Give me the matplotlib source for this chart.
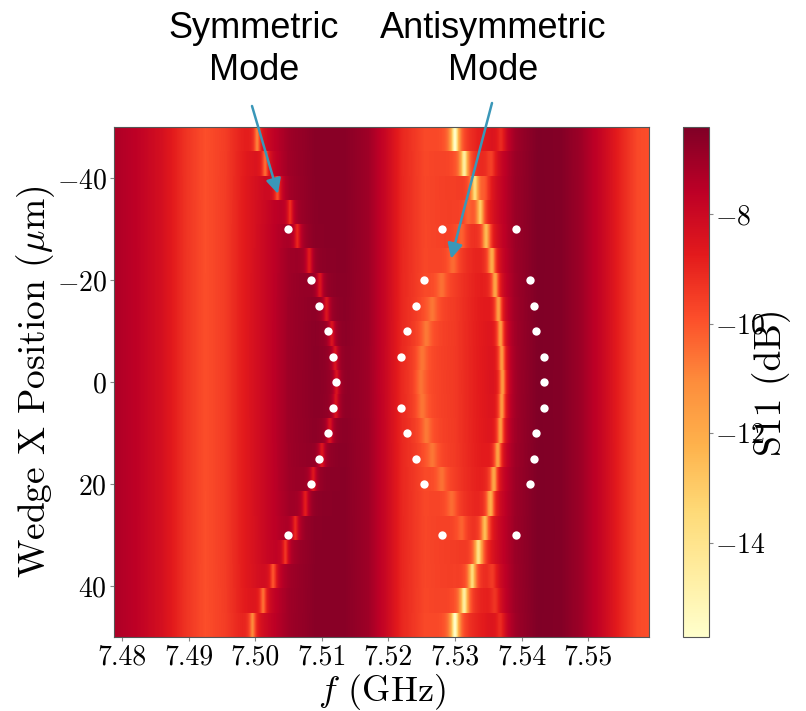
import numpy as np
import matplotlib
matplotlib.use("Agg")
import matplotlib.pyplot as plt

plt.rcParams["font.family"] = "serif"
plt.rcParams["font.serif"] = ["cmr10"]
plt.rcParams["mathtext.fontset"] = "cm"
plt.rcParams["axes.formatter.use_mathtext"] = True

# Frequency window (GHz) and wedge positions (um)
f_min, f_max = 7.4788, 7.5591
positions = np.arange(-50, 51, 5)

# Off-resonance S11 baseline (GHz, dB)
bg_freq = [7.4788, 7.4820, 7.4860, 7.4895, 7.4925, 7.4955, 7.4980, 7.5020,
           7.5050, 7.5090, 7.5135, 7.5170, 7.5195, 7.5220, 7.5255, 7.5300,
           7.5345, 7.5390, 7.5425, 7.5460, 7.5490, 7.5520, 7.5550, 7.5575,
           7.5591]
bg_db = [-7.3, -7.6, -8.3, -9.3, -9.9, -9.5, -8.8, -7.8,
         -7.0, -6.6, -6.6, -7.0, -7.9, -9.0, -9.7, -9.4,
         -8.5, -6.9, -6.4, -6.5, -7.0, -7.9, -9.0, -9.8,
         -9.9]

# Symmetric mode: resonance centre (GHz) and dip depth (dB) per row, -50 -> 50 um
sym_center = [7.5003, 7.5015, 7.5033, 7.5052, 7.5063, 7.5081, 7.5097, 7.5107,
              7.5115, 7.5120, 7.5122, 7.5121, 7.5112, 7.5100, 7.5087, 7.5075,
              7.5060, 7.5045, 7.5027, 7.5012, 7.4996]
sym_depth = [2.6, 2.5, 2.4, 2.2, 2.1, 2.0, 1.9, 1.9, 1.8, 1.8, 1.8, 1.8, 1.8,
             1.9, 1.9, 2.0, 2.1, 2.2, 2.4, 2.5, 2.6]

# Antisymmetric mode: main resonance
anti_center = [7.5300, 7.5314, 7.5330, 7.5338, 7.5347, 7.5355, 7.5360, 7.5365,
               7.5368, 7.5370, 7.5371, 7.5370, 7.5368, 7.5364, 7.5358, 7.5353,
               7.5345, 7.5335, 7.5326, 7.5314, 7.5300]
anti_depth = [6.2, 5.4, 4.6, 4.2, 4.0, 3.9, 3.8, 3.8, 3.8, 3.8, 3.8, 3.8, 3.8,
              3.8, 3.8, 3.9, 4.0, 4.2, 4.6, 5.4, 6.2]

# Weak companion resonance next to the antisymmetric mode
side_center = [7.5369, 7.5354, 7.5345, 7.5320, 7.5310, 7.5297, 7.5280, 7.5266,
               7.5257, 7.5250, 7.5248, 7.5250, 7.5257, 7.5266, 7.5280, 7.5295,
               7.5310, 7.5338, 7.5356, 7.5360, 7.5368]
side_depth = [1.4, 1.3, 1.1, 1.0, 1.0, 1.0, 1.0, 1.0, 1.0, 1.0, 1.0, 1.0, 1.0,
              1.0, 1.0, 1.0, 1.0, 1.1, 1.2, 1.3, 1.4]

# Simulated eigenfrequencies (white markers)
sim_sym_y = [-30, -20, -15, -10, -5, 0, 5, 10, 15, 20, 30]
sim_sym_f = [7.5049, 7.5084, 7.5096, 7.5109, 7.5117, 7.5121, 7.5117, 7.5109,
             7.5096, 7.5084, 7.5049]
sim_lo_y = [-30, -20, -15, -10, -5, 5, 10, 15, 20, 30]
sim_lo_f = [7.5281, 7.5253, 7.5241, 7.5228, 7.5219, 7.5219, 7.5228, 7.5241,
            7.5253, 7.5281]
sim_hi_y = [-30, -20, -15, -10, -5, 0, 5, 10, 15, 20, 30]
sim_hi_f = [7.5391, 7.5413, 7.5418, 7.5422, 7.5433, 7.5433, 7.5433, 7.5422,
            7.5418, 7.5413, 7.5391]

vmin, vmax = -15.72, -6.41

# Build the S11 map: baseline with Lorentzian resonance dips
freq = np.linspace(f_min, f_max, 1600)
base = np.interp(freq, bg_freq, bg_db)


def dip(center, depth, hwhm):
    c = np.asarray(center)[:, None]
    d = np.asarray(depth)[:, None]
    return d / (1.0 + ((freq[None, :] - c) / hwhm) ** 2)


s11 = (base[None, :]
       - dip(sym_center, sym_depth, 0.00045)
       - dip(anti_center, anti_depth, 0.00050)
       - dip(side_center, side_depth, 0.00075))

fig = plt.figure(figsize=(8.06, 7.11), dpi=100)
ax = fig.add_axes([114 / 806, 74 / 711, 535 / 806, 510 / 711])
cax = fig.add_axes([683 / 806, 74 / 711, 25.5 / 806, 510 / 711])

im = ax.imshow(s11, cmap="YlOrRd", vmin=vmin, vmax=vmax, aspect="auto",
               interpolation="nearest", origin="upper",
               extent=[f_min, f_max, 50, -50])

ax.plot(sim_sym_f, sim_sym_y, "o", color="white", ms=6, mec="none")
ax.plot(sim_lo_f, sim_lo_y, "o", color="white", ms=6, mec="none")
ax.plot(sim_hi_f, sim_hi_y, "o", color="white", ms=6, mec="none")

ax.set_xlim(f_min, f_max)
ax.set_ylim(50, -50)
ax.set_xticks([7.48, 7.49, 7.50, 7.51, 7.52, 7.53, 7.54, 7.55])
ax.set_xticklabels(["7.48", "7.49", "7.50", "7.51", "7.52", "7.53", "7.54", "7.55"])
ax.set_yticks([-40, -20, 0, 20, 40])
ax.tick_params(labelsize=20, length=3, width=0.8, color="#888888", pad=2)
ax.set_xlabel(r"$f$ (GHz)", fontsize=26, labelpad=1)
ax.set_ylabel(r"Wedge X Position ($\mu$m)", fontsize=27, labelpad=0)
for sp in ax.spines.values():
    sp.set_color("#555555")
    sp.set_linewidth(0.8)

cb = fig.colorbar(im, cax=cax)
cb.set_ticks([-8, -10, -12, -14])
cb.ax.tick_params(labelsize=20, length=3, width=0.8, color="#888888", pad=2)
cb.outline.set_edgecolor("#555555")
cb.outline.set_linewidth(0.8)
cb.set_label("S11 (dB)", fontsize=27, labelpad=-10)

arrow_color = "#3a97b8"
label_font = dict(family=["Liberation Sans", "DejaVu Sans"], fontsize=26,
                  ha="center", va="top", linespacing=1.25)
fig.text(254 / 806, 1 - 11 / 711, "Symmetric\nMode", **label_font)
fig.text(493 / 806, 1 - 11 / 711, "Antisymmetric\nMode", **label_font)

ax.annotate("", xy=(7.5034, -36.9), xycoords="data",
            xytext=(252 / 806, 1 - 106 / 711), textcoords="figure fraction",
            arrowprops=dict(arrowstyle="-|>,head_length=0.9,head_width=0.45",
                            color=arrow_color, lw=1.8, shrinkA=0, shrinkB=0),
            annotation_clip=False)
ax.annotate("", xy=(7.5294, -24.2), xycoords="data",
            xytext=(492 / 806, 1 - 103 / 711), textcoords="figure fraction",
            arrowprops=dict(arrowstyle="-|>,head_length=0.9,head_width=0.45",
                            color=arrow_color, lw=1.8, shrinkA=0, shrinkB=0),
            annotation_clip=False)

fig.savefig("out.png", dpi=100)
